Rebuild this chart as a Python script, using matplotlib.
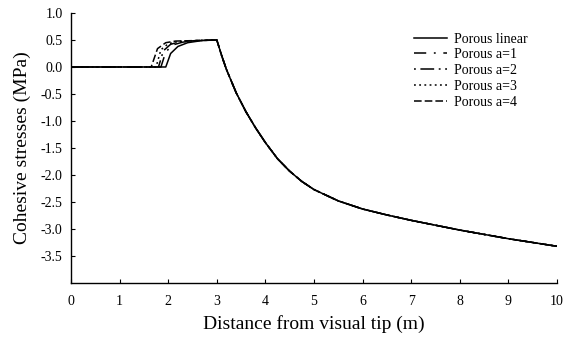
import matplotlib
matplotlib.use("Agg")
import matplotlib.pyplot as plt

plt.rcParams["font.family"] = ["Liberation Serif", "DejaVu Serif"]
plt.rcParams["axes.unicode_minus"] = False

# Softening zone (shared by all models after the peak at 3 m)
x_tail = [3.0, 3.1, 3.2, 3.4, 3.6, 3.8, 4.0, 4.25, 4.5, 4.75, 5.0,
          5.5, 6.0, 6.5, 7.0, 7.5, 8.0, 8.5, 9.0, 9.5, 10.0]
y_tail = [0.50, 0.21, -0.05, -0.48, -0.83, -1.13, -1.40, -1.70, -1.93,
          -2.12, -2.27, -2.48, -2.63, -2.74, -2.84, -2.93, -3.02, -3.10,
          -3.18, -3.25, -3.32]

# Leading zone for each porous model
x_lin = [0.0, 1.95, 2.05, 2.2, 2.4, 2.7, 3.0]
y_lin = [0.0, 0.0, 0.25, 0.38, 0.45, 0.49, 0.50]
x_a1 = [0.0, 1.85, 1.95, 2.1, 2.3, 2.6, 3.0]
y_a1 = [0.0, 0.0, 0.28, 0.41, 0.46, 0.49, 0.50]
x_a2 = [0.0, 1.80, 1.90, 2.05, 2.25, 2.6, 3.0]
y_a2 = [0.0, 0.0, 0.30, 0.42, 0.47, 0.49, 0.50]
x_a3 = [0.0, 1.75, 1.85, 2.0, 2.2, 2.6, 3.0]
y_a3 = [0.0, 0.0, 0.32, 0.43, 0.47, 0.49, 0.50]
x_a4 = [0.0, 1.65, 1.78, 1.95, 2.15, 2.6, 3.0]
y_a4 = [0.0, 0.0, 0.34, 0.45, 0.48, 0.49, 0.50]

labels = ["Porous linear", "Porous a=1", "Porous a=2", "Porous a=3", "Porous a=4"]
x_ticks = list(range(0, 11))
y_ticks = [-3.5, -3.0, -2.5, -2.0, -1.5, -1.0, -0.5, 0.0, 0.5, 1.0]

series = [(x_lin, y_lin), (x_a1, y_a1), (x_a2, y_a2), (x_a3, y_a3), (x_a4, y_a4)]
styles = ["-", (0, (8, 5, 1.2, 5)), (0, (1.2, 3, 9, 3)), (0, (1.2, 2.2)), (0, (5, 2))]

fig = plt.figure(figsize=(5.64, 3.39), dpi=100)
ax = fig.add_axes([0.1259, 0.1652, 0.8617, 0.7965])

for (xs, ys), ls, lab in zip(series, styles, labels):
    ax.plot(list(xs) + x_tail[1:], list(ys) + y_tail[1:], color="black",
            linestyle=ls, linewidth=1.1, label=lab)

ax.set_xlim(0, 10)
ax.set_ylim(-4.0, 1.0)
ax.set_xticks(x_ticks)
ax.set_xticklabels([str(t) for t in x_ticks])
ax.set_yticks(y_ticks)
ax.set_yticklabels([f"{t:.1f}" for t in y_ticks])
ax.tick_params(direction="in", length=3, width=0.8, labelsize=10, pad=6)
ax.tick_params(axis="x", pad=9)
ax.spines["top"].set_visible(False)
ax.spines["right"].set_visible(False)
for s in ("left", "bottom"):
    ax.spines[s].set_linewidth(1.0)

ax.set_xlabel("Distance from visual tip (m)", fontsize=14, labelpad=5)
ax.set_ylabel("Cohesive stresses (MPa)", fontsize=14, labelpad=7)

ax.legend(loc="upper right", bbox_to_anchor=(0.965, 0.974), frameon=False,
          fontsize=10, handlelength=2.4, handletextpad=0.5, labelspacing=0.2)

fig.savefig("out.png", dpi=100)
